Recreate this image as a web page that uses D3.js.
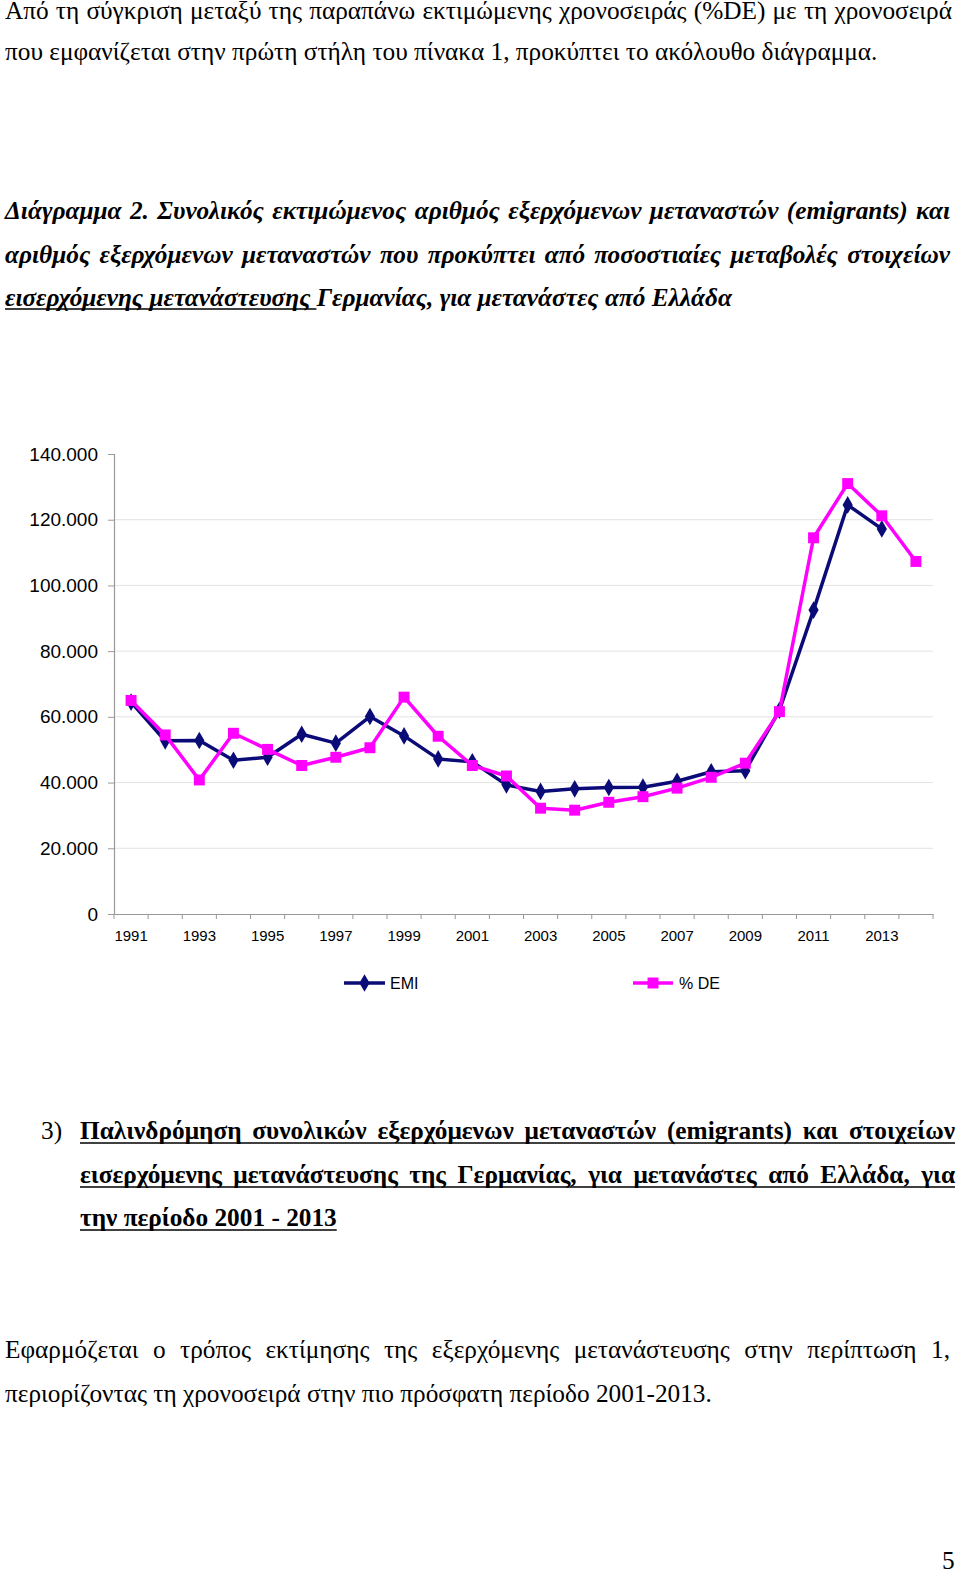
<!DOCTYPE html>
<html><head><meta charset="utf-8">
<script src="https://cdn.jsdelivr.net/npm/d3@7"></script>
<style>
html,body{margin:0;padding:0;background:#fff;}
svg{display:block;}
.body{font-family:"Liberation Serif","Times New Roman",serif;font-size:25.3px;fill:#000;}
.title{font-family:"Liberation Serif","Times New Roman",serif;font-size:25.3px;font-weight:bold;font-style:italic;fill:#000;}
.sec{font-family:"Liberation Serif","Times New Roman",serif;font-size:25.3px;font-weight:bold;fill:#000;}
.ylab{font-family:"Liberation Sans",Arial,sans-serif;font-size:19px;fill:#000;}
.xlab{font-family:"Liberation Sans",Arial,sans-serif;font-size:15px;fill:#000;}
.leg{font-family:"Liberation Sans",Arial,sans-serif;font-size:16px;fill:#000;}
</style></head><body>
<svg id="page" width="960" height="1572"></svg>
<script>
// ---- data ----
const years = [1991,1992,1993,1994,1995,1996,1997,1998,1999,2000,2001,2002,2003,2004,2005,2006,2007,2008,2009,2010,2011,2012,2013,2014];
const emi = [64500,52700,52800,46800,47700,54700,52000,60100,54200,47200,46300,39300,37300,38100,38500,38600,40400,43300,43600,62000,92500,124500,117200,null];
const de  = [65000,54500,40800,55000,50100,45200,47700,50600,66000,54100,45200,42000,32200,31600,34000,35700,38300,41600,45900,61600,114500,131000,121200,107300];
const yTicks = [0,20000,40000,60000,80000,100000,120000,140000];
const xLabelYears = [1991,1993,1995,1997,1999,2001,2003,2005,2007,2009,2011,2013];
const seriesNames = ["EMI","% DE"];
const seriesColors = ["#0b0b78","#ff00ff"];

const introLines = [
  "Από τη σύγκριση μεταξύ της παραπάνω εκτιμώμενης χρονοσειράς (%DE) με τη χρονοσειρά",
  "που εμφανίζεται στην πρώτη στήλη του πίνακα 1, προκύπτει το ακόλουθο διάγραμμα."
];
const titleLines = [
  "Διάγραμμα 2. Συνολικός εκτιμώμενος αριθμός εξερχόμενων μεταναστών (emigrants) και",
  "αριθμός εξερχόμενων μεταναστών που προκύπτει από ποσοστιαίες μεταβολές στοιχείων"
];
const titleLine3U = "εισερχόμενης μετανάστευσης";
const titleLine3 = "Γερμανίας, για μετανάστες από Ελλάδα";
const secNumber = "3)";
const secLines = [
  "Παλινδρόμηση συνολικών εξερχόμενων μεταναστών (emigrants) και στοιχείων",
  "εισερχόμενης μετανάστευσης της Γερμανίας, για μετανάστες από Ελλάδα, για",
  "την περίοδο 2001 - 2013"
];
const paraLines = [
  "Εφαρμόζεται ο τρόπος εκτίμησης της εξερχόμενης μετανάστευσης στην περίπτωση 1,",
  "περιορίζοντας τη χρονοσειρά στην πιο πρόσφατη περίοδο  2001-2013."
];
const pageNumber = "5";

const FS = 25.3;
const svg = d3.select("#page");

// ---- text helper: places words, optionally justified ----
function textLine(parent, str, x0, x1, y, cls, justify, fs) {
  const words = str.split(/\s+/).filter(w => w.length);
  const t = parent.append("text").attr("class", cls).attr("y", y);
  const spans = words.map(w => t.append("tspan").text(w));
  const widths = spans.map(s => s.node().getComputedTextLength());
  let gap = fs * 0.25;
  if (justify && words.length > 1) gap = (x1 - x0 - d3.sum(widths)) / (words.length - 1);
  let x = x0;
  spans.forEach((s, i) => { s.attr("x", x); x += widths[i] + gap; });
  return x - gap; // end x
}
function underline(parent, x0, x1, y) {
  parent.append("line").attr("x1", x0).attr("x2", x1).attr("y1", y).attr("y2", y)
    .attr("stroke", "#000").attr("stroke-width", 1.7);
}

// intro
textLine(svg, introLines[0], 5, 952, 19, "body", true, FS);
textLine(svg, introLines[1], 5, 952, 60, "body", false, FS);

// title
textLine(svg, titleLines[0], 5, 950, 219, "title", true, FS);
textLine(svg, titleLines[1], 5, 950, 263, "title", true, FS);
{
  const e1 = textLine(svg, titleLine3U, 5, 950, 306, "title", false, FS);
  underline(svg, 5, e1 + 6, 309);
  textLine(svg, titleLine3, e1 + 6.3, 950, 306, "title", false, FS);
}

// section 3
svg.append("text").attr("class", "body").attr("x", 41).attr("y", 1139).text(secNumber);
{
  textLine(svg, secLines[0], 80, 955, 1139, "sec", true, FS);
  underline(svg, 80, 955, 1143);
  textLine(svg, secLines[1], 80, 955, 1183, "sec", true, FS);
  underline(svg, 80, 955, 1187);
  const e3 = textLine(svg, secLines[2], 80, 955, 1226, "sec", false, FS);
  underline(svg, 80, e3, 1230);
}

// paragraph
textLine(svg, paraLines[0], 5, 950, 1358, "body", true, FS);
textLine(svg, paraLines[1], 5, 950, 1402, "body", false, FS);
svg.append("text").attr("class", "body").attr("x", 942).attr("y", 1569).text(pageNumber);

// ---- chart ----
const plotL = 114, plotR = 933, plotT = 454, plotB = 914;
const x = d3.scaleBand().domain(years).range([plotL, plotR]);
const y = d3.scaleLinear().domain([0, 140000]).range([plotB, plotT]);
const loc = d3.formatLocale({decimal: ",", thousands: ".", grouping: [3], currency: ["", "€"]});
const fmt = loc.format(",");

const chart = svg.append("g");

// gridlines
chart.append("g").selectAll("line").data(yTicks.filter(v => v > 0 && v < 140000)).join("line")
  .attr("x1", plotL).attr("x2", plotR)
  .attr("y1", d => y(d)).attr("y2", d => y(d))
  .attr("stroke", "#e3e3e3").attr("stroke-width", 1);

// y axis
const yAxis = chart.append("g").attr("transform", `translate(${plotL},0)`)
  .call(d3.axisLeft(y).tickValues(yTicks).tickFormat(fmt).tickSize(6).tickPadding(10));
yAxis.select(".domain").attr("stroke", "#999").attr("stroke-width", 1.2);
yAxis.selectAll(".tick line").attr("stroke", "#999");
yAxis.selectAll(".tick text").attr("class", "ylab").attr("font-family", null).attr("font-size", null).attr("fill", "#000");

// x axis
const xAxis = chart.append("g").attr("transform", `translate(0,${plotB})`)
  .call(d3.axisBottom(x).tickValues(xLabelYears).tickSize(0).tickPadding(16));
xAxis.select(".domain").attr("stroke", "#999").attr("stroke-width", 1.2);
xAxis.selectAll(".tick text").attr("class", "xlab").attr("font-family", null).attr("font-size", null).attr("fill", "#000");
// boundary ticks between categories
xAxis.append("g").selectAll("line").data(years.concat([null])).join("line")
  .attr("x1", (d, i) => i < years.length ? x(d) : x(years[years.length - 1]) + x.bandwidth())
  .attr("x2", (d, i) => i < years.length ? x(d) : x(years[years.length - 1]) + x.bandwidth())
  .attr("y1", 0).attr("y2", 5).attr("stroke", "#999");

const cx = d => x(d) + x.bandwidth() / 2;
const diamond = d3.symbol().type(d3.symbolDiamond).size(90);
const square = d3.symbol().type(d3.symbolSquare).size(120);

function drawSeries(vals, color, sym, w) {
  const pts = years.map((yr, i) => ({yr, v: vals[i]})).filter(p => p.v != null);
  chart.append("path").datum(pts)
    .attr("d", d3.line().x(p => cx(p.yr)).y(p => y(p.v)))
    .attr("fill", "none").attr("stroke", color).attr("stroke-width", w).attr("stroke-linejoin", "round");
  chart.append("g").selectAll("path").data(pts).join("path")
    .attr("transform", p => `translate(${cx(p.yr)},${y(p.v)})`)
    .attr("d", sym).attr("fill", color);
}
drawSeries(emi, seriesColors[0], diamond, 3.5);
drawSeries(de, seriesColors[1], square, 3.5);

// legend
const legY = 983;
const legItems = [
  {name: seriesNames[0], color: seriesColors[0], sym: diamond, x0: 344, x1: 385, tx: 390},
  {name: seriesNames[1], color: seriesColors[1], sym: square, x0: 633, x1: 673, tx: 679}
];
const leg = svg.append("g");
legItems.forEach(it => {
  leg.append("line").attr("x1", it.x0).attr("x2", it.x1).attr("y1", legY).attr("y2", legY)
    .attr("stroke", it.color).attr("stroke-width", 3.5);
  leg.append("path").attr("transform", `translate(${(it.x0 + it.x1) / 2},${legY})`).attr("d", it.sym).attr("fill", it.color);
  leg.append("text").attr("class", "leg").attr("x", it.tx).attr("y", legY).attr("dy", "0.36em").text(it.name);
});
</script>
</body></html>
